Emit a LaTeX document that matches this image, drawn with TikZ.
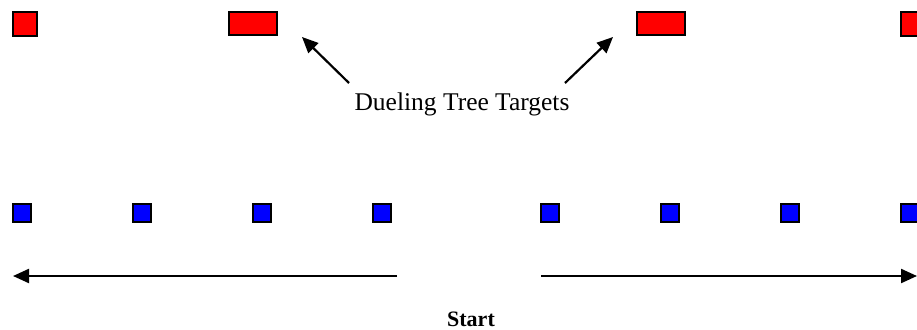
\documentclass[tikz,border=0pt]{standalone}
\usepackage{fontspec}
\setmainfont{Liberation Serif}
\usetikzlibrary{positioning,arrows.meta}

\begin{document}
\begin{tikzpicture}[
		x=1pt, y=-1pt,
		node distance=120pt,
		>={Triangle[length=16pt,width=14pt]},
		target/.style = {draw, line width=1.6pt, fill=red, minimum height=23.5pt, inner sep=0pt},
		stand/.style = {draw, line width=1.6pt, fill=blue, minimum size=18.5pt, inner sep=0pt},
		pointer/.style = {->, line width=2.2pt}
	]
	\useasboundingbox (0,0) rectangle (917,329);
	% Targets.
	\node[target, minimum width=24.5pt] (t1) at (25,24) {};
	\node[target, minimum width=48.5pt] (t2) at (253,23.5) {};
	\node[target, minimum width=48.5pt] (t3) at (661,23.5) {};
	\node[target, minimum width=24.5pt] (t4) at (913,24) {};
	% Stands, left half.
	\node[stand] (s1) at (22,213) {};
	\node[stand, right of=s1] (s2) {};
	\node[stand, right of=s2] (s3) {};
	\node[stand, right of=s3] (s4) {};
	% Stands, right half.
	\node[stand] (s5) at (550,213) {};
	\node[stand, right of=s5] (s6) {};
	\node[stand, right of=s6] (s7) {};
	\node[stand, right of=s7] (s8) {};
	% Labels.
	\node[anchor=base, font=\fontsize{25.5}{30}\selectfont] (dt) at (462,110) {Dueling Tree Targets};
	\node[anchor=base, font=\bfseries\fontsize{22}{26}\selectfont] (st) at (471,326) {Start};
	% Arrow ends.
	\coordinate (la) at (349,83);
	\coordinate (lb) at (302,37);
	\coordinate (ra) at (565,83);
	\coordinate (rb) at (613,37);
	\coordinate (ha) at (397,276);
	\coordinate (hb) at (13,276);
	\coordinate (hc) at (541,276);
	\coordinate (hd) at (917,276);
	
	\draw[pointer] (la) to (lb);
	\draw[pointer] (ra) to (rb);
	\draw[pointer] (ha) to (hb);
	\draw[pointer] (hc) to (hd);
\end{tikzpicture}
\end{document}
